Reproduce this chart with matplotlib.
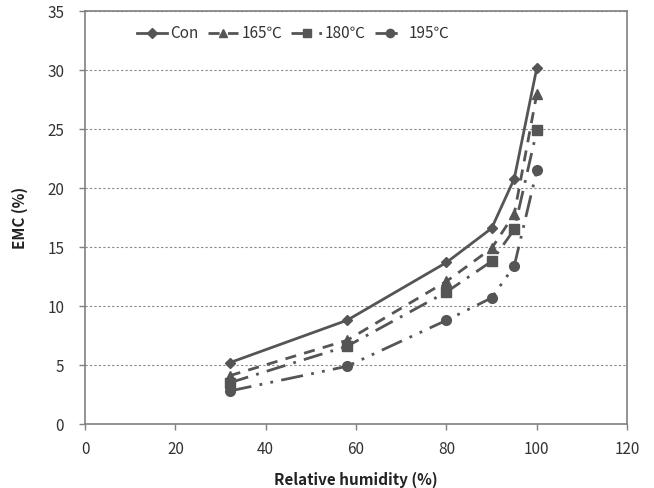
import matplotlib
matplotlib.use('Agg')
import matplotlib.pyplot as plt

plt.rcParams['font.family'] = ['Noto Sans CJK KR', 'DejaVu Sans']

# relative humidity (%) and EMC (%) per treatment
rh = [32, 58, 80, 90, 95, 100]
emc_con = [5.2, 8.8, 13.7, 16.6, 20.8, 30.2]
emc_165 = [4.1, 7.1, 12.1, 14.9, 17.8, 28.0]
emc_180 = [3.5, 6.6, 11.2, 13.8, 16.5, 24.9]
emc_195 = [2.8, 4.9, 8.8, 10.7, 13.4, 21.5]
labels = ['Con', '165\u2103', '180\u2103', '195\u2103']

col = '#555555'
fig = plt.figure(figsize=(6.54, 4.88), dpi=100)
ax = fig.add_axes([0.130, 0.131, 0.829, 0.846])

ax.plot(rh, emc_con, color=col, lw=2, marker='D', ms=5.5, ls='-', label=labels[0])
ax.plot(rh, emc_165, color=col, lw=2, marker='^', ms=7.5, dashes=(4, 3), label=labels[1])
ax.plot(rh, emc_180, color=col, lw=2, marker='s', ms=6.5, dashes=(7, 3, 1, 3), label=labels[2])
ax.plot(rh, emc_195, color=col, lw=2, marker='o', ms=7, dashes=(8, 3, 1, 3, 1, 3), label=labels[3])

ax.set_xlim(0, 120)
ax.set_ylim(0, 35)
ax.set_xticks(range(0, 121, 20))
ax.set_yticks(range(0, 36, 5))
ax.yaxis.grid(True, ls=(0, (2, 2)), color='#888888', lw=0.8)
ax.set_axisbelow(True)
for s in ax.spines.values():
    s.set_color('#808080')
    s.set_linewidth(1.2)
ax.tick_params(colors='#808080', labelcolor='#333333', labelsize=11, length=4, width=1)
ax.tick_params(axis='y', pad=11)
ax.tick_params(axis='x', pad=8)
ax.set_xlabel('Relative humidity (%)', fontsize=11, fontweight='bold', color='#222222', labelpad=10)
ax.set_ylabel('EMC (%)', fontsize=11, fontweight='bold', color='#222222', labelpad=14)

ax.legend(loc='upper left', bbox_to_anchor=(0.07, 1.0), ncol=4, frameon=False,
          handlelength=2.0, handletextpad=0.2, columnspacing=0.6, fontsize=11,
          labelcolor='#333333', markerscale=0.85)

fig.savefig('out.png', dpi=100)
